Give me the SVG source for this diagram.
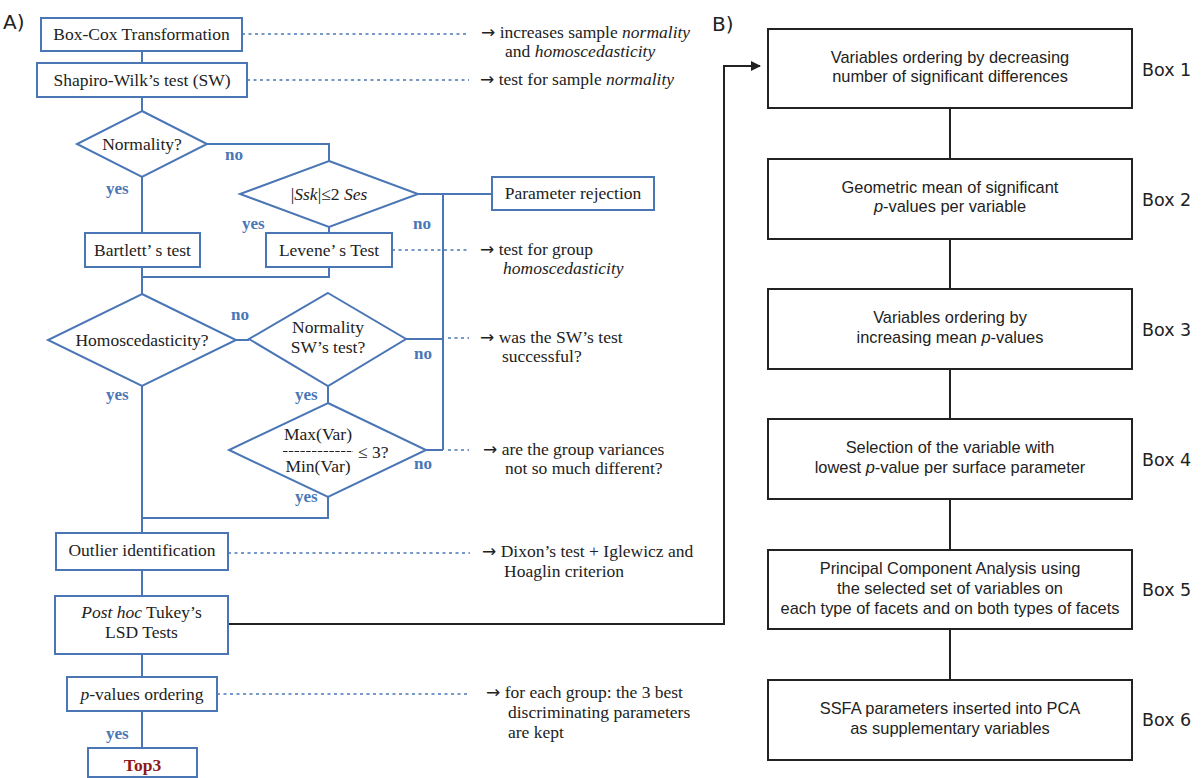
<svg xmlns="http://www.w3.org/2000/svg" width="1201" height="778" viewBox="0 0 1201 778">
<style>
.bx{fill:#fff;stroke:#4a76b6;stroke-width:2}
.bl{fill:none;stroke:#4a76b6;stroke-width:2}
.dot{fill:none;stroke:#4a76b6;stroke-width:1.6;stroke-dasharray:3 3.5}
.t{font-family:"Liberation Serif",serif;font-size:17.5px;fill:#222}
.c{text-anchor:middle}
.ar{font-family:"DejaVu Sans",sans-serif;font-size:17px}
.yn{font-family:"Liberation Serif",serif;font-size:17px;font-weight:bold;fill:#4a76b6}
.bk{fill:#fff;stroke:#222;stroke-width:2}
.kl{fill:none;stroke:#222;stroke-width:2}
.s{font-family:"Liberation Sans",Arial,sans-serif;font-size:16.4px;fill:#222;text-anchor:middle}
.lab{font-family:"DejaVu Sans",sans-serif;font-size:17.5px;fill:#222}
.hd{font-family:"DejaVu Sans",sans-serif;font-size:20px;fill:#222}
</style>
<defs>
<marker id="ah" markerWidth="10" markerHeight="10" refX="9" refY="5" orient="auto" markerUnits="userSpaceOnUse">
<path d="M0,0 L10,5 L0,10 Z" fill="#222"/>
</marker>
</defs>
<rect width="1201" height="778" fill="#fff"/>
<text class="hd" x="3" y="29">A)</text>
<text class="hd" x="712" y="31">B)</text>

<g id="connectors">
<path class="bl" d="M142,51V63 M142,97V111 M207,144H329V161 M142,177V233 M329,227V233 M418,194H492 M443,194V450 M142,267V294 M329,267V277H142 M236,340H249 M406,339H443 M328,386V403 M426,450H443 M328,497V518H142 M142,386V533 M142,570V596 M142,654V677 M142,711V748"/>
<path class="dot" d="M242,34H469 M247,80H469 M392,250H469 M448,338H469 M448,450H469 M228,553H470 M217,694H468"/>
<path class="kl" d="M228,624H724V66H760" marker-end="url(#ah)"/>
<path class="kl" d="M950,108V159 M950,239V289 M950,369V419 M950,499V550 M950,629V680"/>
</g>

<g id="labels-yn">
<text class="yn" x="225" y="160">no</text>
<text class="yn" x="106" y="194">yes</text>
<text class="yn" x="242" y="229">yes</text>
<text class="yn" x="413" y="229">no</text>
<text class="yn" x="231" y="320">no</text>
<text class="yn" x="414" y="359">no</text>
<text class="yn" x="106" y="400">yes</text>
<text class="yn" x="295" y="400">yes</text>
<text class="yn" x="414" y="469">no</text>
<text class="yn" x="295" y="502">yes</text>
<text class="yn" x="106" y="739">yes</text>
</g>

<g id="boxcox"><rect class="bx" x="41" y="18" width="201" height="33"/><text class="t c" x="141.5" y="40">Box-Cox Transformation</text></g>
<g id="shapiro"><rect class="bx" x="37" y="63" width="210" height="34"/><text class="t c" x="142" y="86">Shapiro-Wilk’s test (SW)</text></g>
<g id="normality"><polygon class="bx" points="142,111 207,144 142,177 77,144"/><text class="t c" x="142" y="150">Normality?</text></g>
<g id="ssk"><polygon class="bx" points="329,161 418,194 329,227 240,194"/><text class="t c" x="329" y="200">|<tspan font-style="italic">Ssk</tspan>|≤2 <tspan font-style="italic">Ses</tspan></text></g>
<g id="rejection"><rect class="bx" x="492" y="177" width="162" height="33"/><text class="t c" x="573" y="199">Parameter rejection</text></g>
<g id="bartlett"><rect class="bx" x="85" y="233" width="115" height="34"/><text class="t c" x="142.5" y="256">Bartlett’ s test</text></g>
<g id="levene"><rect class="bx" x="266" y="233" width="126" height="34"/><text class="t c" x="329" y="256">Levene’ s Test</text></g>
<g id="homo"><polygon class="bx" points="142,294 236,340 142,386 48,340"/><text class="t c" x="142" y="346">Homoscedasticity?</text></g>
<g id="nsw"><polygon class="bx" points="328,293 406,339 328,386 249,339"/><text class="t c" x="328" y="333">Normality</text><text class="t c" x="328" y="353">SW’s test?</text></g>
<g id="maxmin"><polygon class="bx" points="328,403 426,450 328,497 229,450"/><text class="t c" x="318" y="440">Max(Var)</text><path d="M283,451.5H353" stroke="#222" stroke-width="1" stroke-dasharray="4.5 1.3" fill="none"/><text class="t c" x="318" y="472">Min(Var)</text><text class="t" x="358" y="458">≤ 3?</text></g>
<g id="outlier"><rect class="bx" x="56" y="533" width="172" height="37"/><text class="t c" x="142" y="556">Outlier identification</text></g>
<g id="posthoc"><rect class="bx" x="55" y="596" width="173" height="58"/><text class="t c" x="141.5" y="618"><tspan font-style="italic">Post hoc</tspan> Tukey’s</text><text class="t c" x="141.5" y="638">LSD Tests</text></g>
<g id="pvalues"><rect class="bx" x="67" y="677" width="150" height="34"/><text class="t c" x="142" y="700"><tspan font-style="italic">p</tspan>-values ordering</text></g>
<g id="top3"><rect class="bx" x="88" y="748" width="109" height="29"/><text class="t c" x="142.5" y="771" style="font-weight:bold;fill:#8e1a1a">Top3</text></g>

<g id="annotations">
<text class="t" x="481" y="38"><tspan class="ar">→</tspan> increases sample <tspan font-style="italic">normality</tspan></text>
<text class="t" x="505" y="57">and <tspan font-style="italic">homoscedasticity</tspan></text>
<text class="t" x="480" y="85"><tspan class="ar">→</tspan> test for sample <tspan font-style="italic">normality</tspan></text>
<text class="t" x="480" y="255"><tspan class="ar">→</tspan> test for group</text>
<text class="t" x="503" y="274" font-style="italic">homoscedasticity</text>
<text class="t" x="480" y="343"><tspan class="ar">→</tspan> was the SW’s test</text>
<text class="t" x="502" y="362">successful?</text>
<text class="t" x="483" y="455"><tspan class="ar">→</tspan> are the group variances</text>
<text class="t" x="505" y="474">not so much different?</text>
<text class="t" x="482" y="557"><tspan class="ar">→</tspan> Dixon’s test + Iglewicz and</text>
<text class="t" x="504" y="577">Hoaglin criterion</text>
<text class="t" x="486" y="698"><tspan class="ar">→</tspan> for each group: the 3 best</text>
<text class="t" x="508" y="718">discriminating parameters</text>
<text class="t" x="508" y="738">are kept</text>
</g>

<g id="box1"><rect class="bk" x="768" y="29" width="364" height="79"/><text class="s" x="950" y="63">Variables ordering by decreasing</text><text class="s" x="950" y="82">number of significant differences</text><text class="lab" x="1142" y="76">Box 1</text></g>
<g id="box2"><rect class="bk" x="768" y="159" width="364" height="80"/><text class="s" x="950" y="193">Geometric mean of significant</text><text class="s" x="950" y="212"><tspan font-style="italic">p</tspan>-values per variable</text><text class="lab" x="1142" y="206">Box 2</text></g>
<g id="box3"><rect class="bk" x="768" y="289" width="364" height="80"/><text class="s" x="950" y="323">Variables ordering by</text><text class="s" x="950" y="343">increasing mean <tspan font-style="italic">p</tspan>-values</text><text class="lab" x="1142" y="336">Box 3</text></g>
<g id="box4"><rect class="bk" x="768" y="419" width="364" height="80"/><text class="s" x="950" y="453">Selection of the variable with</text><text class="s" x="950" y="473">lowest <tspan font-style="italic">p</tspan>-value per surface parameter</text><text class="lab" x="1142" y="466">Box 4</text></g>
<g id="box5"><rect class="bk" x="768" y="550" width="364" height="79"/><text class="s" x="950" y="574">Principal Component Analysis using</text><text class="s" x="950" y="594">the selected set of variables on</text><text class="s" x="950" y="614">each type of facets and on both types of facets</text><text class="lab" x="1142" y="596">Box 5</text></g>
<g id="box6"><rect class="bk" x="768" y="680" width="364" height="80"/><text class="s" x="950" y="714">SSFA parameters inserted into PCA</text><text class="s" x="950" y="734">as supplementary variables</text><text class="lab" x="1142" y="726">Box 6</text></g>
</svg>
